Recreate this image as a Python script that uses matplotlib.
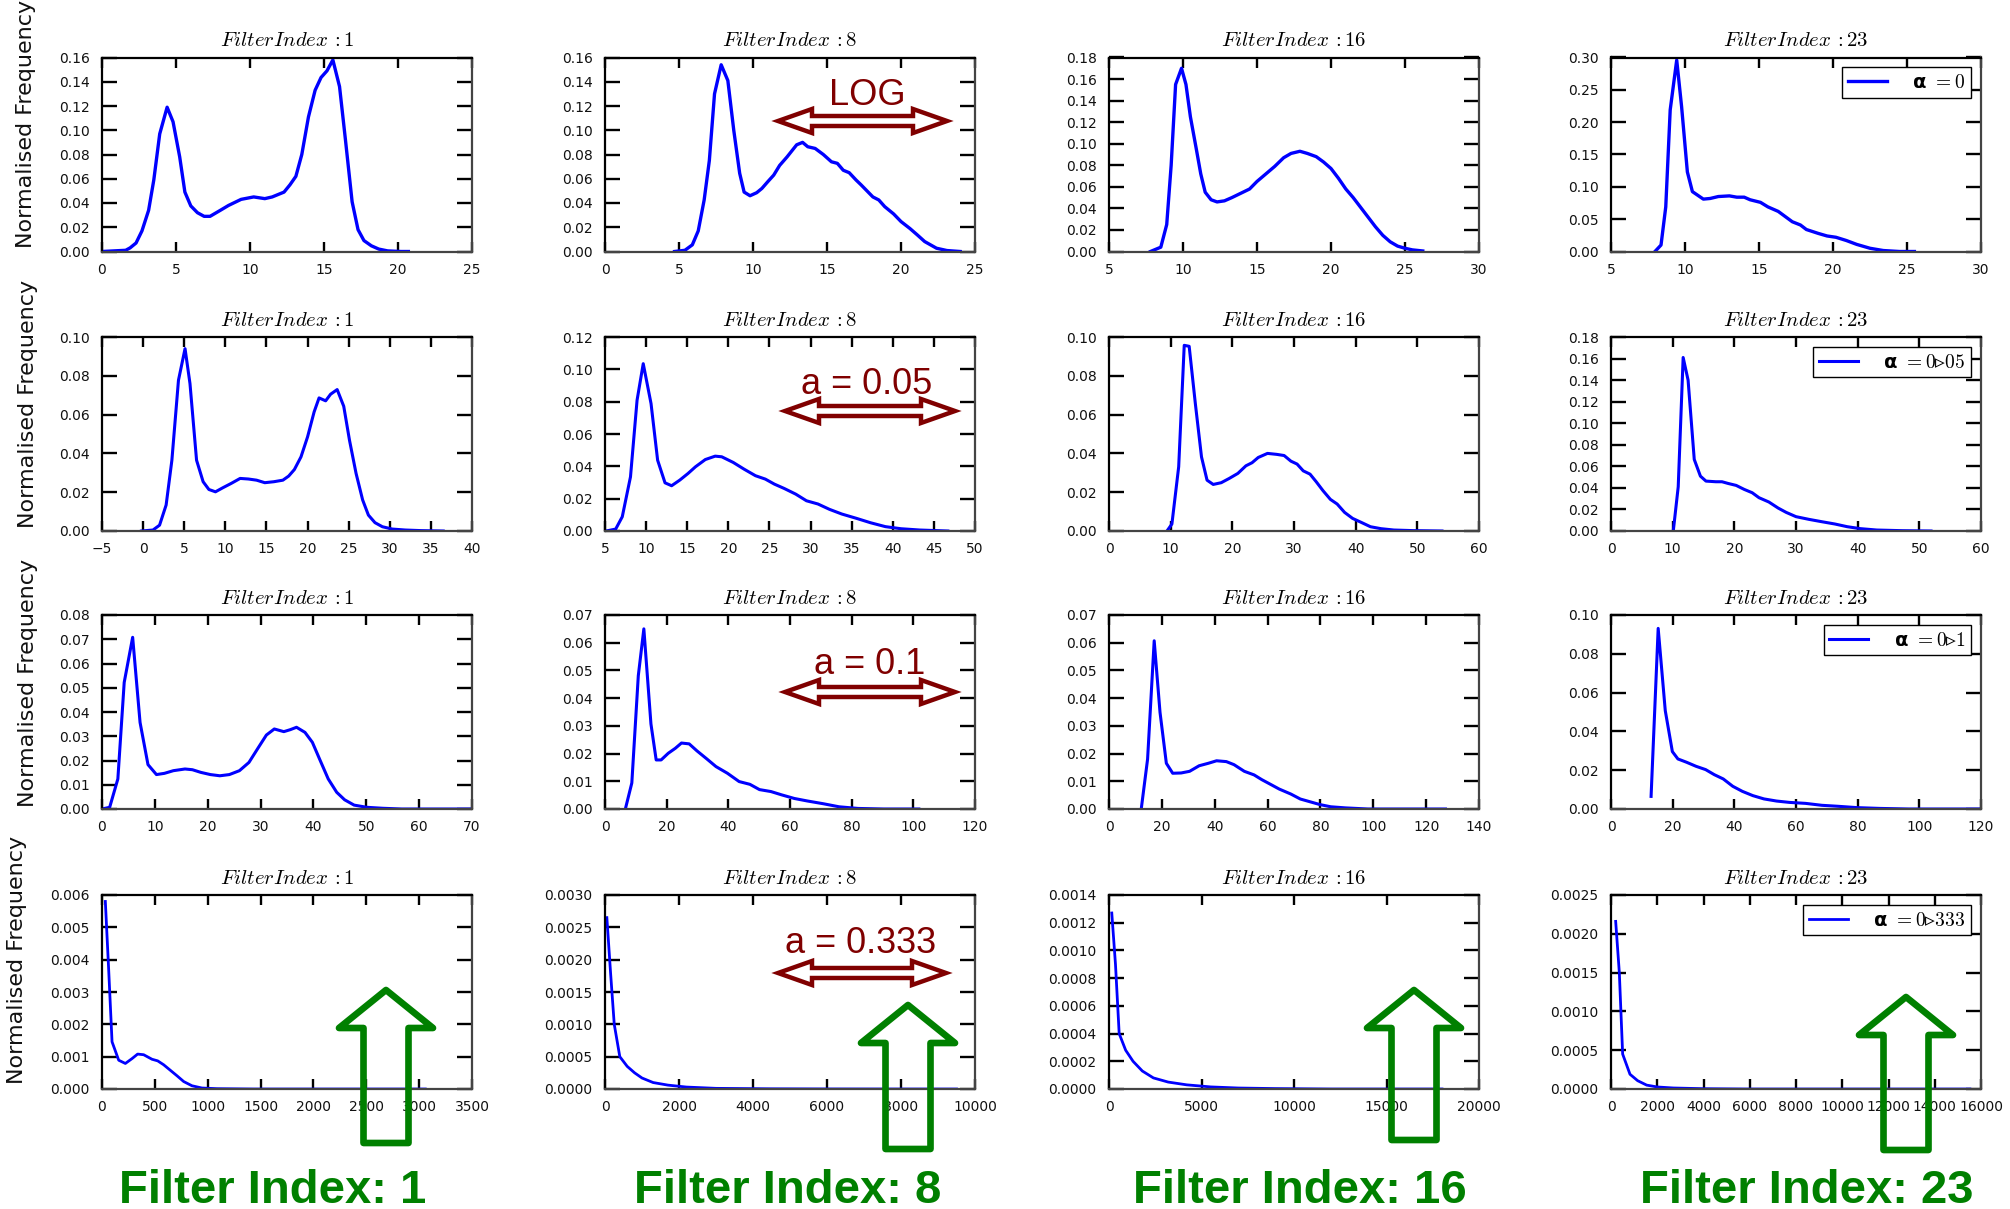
import numpy as np
import matplotlib
matplotlib.use('Agg')
import matplotlib.pyplot as plt
from matplotlib.patches import Polygon
from matplotlib.ticker import FormatStrFormatter, MultipleLocator

plt.rcParams['mathtext.fontset'] = 'cm'
plt.rcParams['font.family'] = ['DejaVu Sans']

W, H = 2010, 1209

# ---- curves: (bin value, normalised frequency) ----
# row 1: LOG
log_f1 = [(0, 0), (1.6, 0.001), (1.9, 0.003), (2.3, 0.007), (2.7, 0.017), (3.15, 0.034), (3.5, 0.059),
          (3.9, 0.097), (4.4, 0.119), (4.8, 0.107), (5.25, 0.078), (5.6, 0.049), (6.0, 0.0376), (6.45, 0.032),
          (6.9, 0.029), (7.3, 0.029), (8.0, 0.034), (8.55, 0.038), (9.4, 0.043), (10.25, 0.045), (11.0, 0.0436),
          (11.5, 0.045), (12.3, 0.049), (12.7, 0.055), (13.1, 0.062), (13.5, 0.080), (13.95, 0.111), (14.4, 0.133),
          (14.8, 0.1435), (15.2, 0.149), (15.6, 0.158), (16.05, 0.136), (16.45, 0.092), (16.9, 0.041), (17.3, 0.018),
          (17.7, 0.009), (18.2, 0.0047), (18.7, 0.002), (19.3, 0.0005), (20.2, 0), (20.7, 0)]
log_f8 = [(4.7, 0), (5.4, 0.001), (5.9, 0.0055), (6.3, 0.017), (6.7, 0.0425), (7.05, 0.075), (7.4, 0.130),
          (7.85, 0.154), (8.3, 0.141), (8.7, 0.100), (9.1, 0.0645), (9.4, 0.049), (9.8, 0.046), (10.25, 0.0485),
          (10.6, 0.052), (11.0, 0.0576), (11.4, 0.063), (11.8, 0.071), (12.3, 0.078), (12.95, 0.088), (13.35, 0.090),
          (13.7, 0.0864), (14.2, 0.085), (14.75, 0.080), (15.3, 0.074), (15.7, 0.0727), (16.1, 0.067), (16.5, 0.065),
          (16.96, 0.059), (17.3, 0.055), (18.1, 0.045), (18.5, 0.0425), (18.9, 0.037), (19.5, 0.031), (20.0, 0.0247),
          (20.6, 0.019), (21.1, 0.0137), (21.6, 0.0082), (22.4, 0.0027), (23.1, 0.0008), (24.0, 0)]
log_f16 = [(7.8, 0), (8.5, 0.004), (8.9, 0.025), (9.2, 0.08), (9.5, 0.155), (9.9, 0.170), (10.2, 0.155),
           (10.5, 0.125), (10.9, 0.095), (11.2, 0.072), (11.5, 0.055), (11.9, 0.048), (12.3, 0.046), (12.8, 0.047),
           (13.3, 0.050), (13.9, 0.054), (14.5, 0.058), (15.0, 0.065), (15.6, 0.072), (16.2, 0.079), (16.8, 0.087),
           (17.3, 0.091), (17.9, 0.093), (18.4, 0.091), (19.0, 0.088), (19.5, 0.083), (20.0, 0.077), (20.5, 0.068),
           (21.0, 0.058), (21.5, 0.050), (22.0, 0.041), (22.5, 0.032), (23.0, 0.023), (23.5, 0.015), (24.0, 0.009),
           (24.5, 0.005), (25.0, 0.003), (25.5, 0.0015), (26.2, 0.0005)]
log_f23 = [(7.97, 0), (8.38, 0.010), (8.7, 0.069), (9.0, 0.219), (9.44, 0.296), (9.77, 0.224), (10.16, 0.123),
           (10.5, 0.0926), (11.24, 0.081), (11.7, 0.082), (12.25, 0.085), (13.0, 0.086), (13.5, 0.084), (14.0, 0.084),
           (14.4, 0.080), (15.1, 0.076), (15.6, 0.069), (16.3, 0.062), (17.25, 0.046), (17.8, 0.041), (18.2, 0.034),
           (19.0, 0.028), (19.6, 0.024), (20.2, 0.022), (20.9, 0.017), (21.6, 0.011), (22.5, 0.005), (23.4, 0.0015),
           (24.5, 0), (25.5, 0)]

# row 2: a = 0.05
a005_f1 = [(-0.2, 0), (1.2, 0.0005), (2.0, 0.003), (2.8, 0.0134), (3.5, 0.0365), (4.3, 0.0777), (5.1, 0.094),
           (5.7, 0.076), (6.5, 0.0365), (7.3, 0.0254), (8.0, 0.0214), (8.8, 0.0202), (9.7, 0.0223), (10.7, 0.0245),
           (11.8, 0.0271), (12.8, 0.0268), (13.8, 0.0262), (14.8, 0.0249), (15.9, 0.0254), (17.0, 0.0262),
           (17.7, 0.0283), (18.4, 0.0317), (19.2, 0.0382), (20.0, 0.0485), (20.8, 0.0614), (21.4, 0.0686),
           (22.2, 0.0671), (22.8, 0.0705), (23.6, 0.0729), (24.4, 0.0643), (25.1, 0.0468), (25.9, 0.0297),
           (26.7, 0.016), (27.4, 0.0082), (28.2, 0.0043), (29.1, 0.0022), (30.3, 0.001), (31.9, 0.0005),
           (33.8, 0.0002), (36.5, 0)]
a005_f8 = [(5.15, 0), (6.3, 0.0012), (7.1, 0.0088), (8.1, 0.0335), (8.9, 0.0809), (9.65, 0.1035), (10.6, 0.0788),
           (11.4, 0.0438), (12.3, 0.0298), (13.1, 0.028), (14.1, 0.0315), (15.1, 0.0356), (16.0, 0.0397),
           (17.2, 0.0442), (18.4, 0.0463), (19.2, 0.0459), (20.6, 0.0424), (21.9, 0.0383), (23.3, 0.0342),
           (24.5, 0.0321), (25.6, 0.029), (26.8, 0.0263), (28.2, 0.0228), (29.5, 0.0187), (30.9, 0.0167),
           (32.3, 0.0134), (33.8, 0.0105), (35.6, 0.0078), (37.3, 0.0051), (39.1, 0.0027), (41.0, 0.0014),
           (43.3, 0.0006), (46.7, 0)]
a005_f16 = [(9.4, 0), (10.2, 0.0036), (11.3, 0.0331), (12.2, 0.0957), (13.0, 0.0952), (14.0, 0.0657),
            (15.0, 0.0382), (15.9, 0.0262), (16.9, 0.024), (18.2, 0.0249), (19.5, 0.0271), (20.9, 0.0297),
            (22.2, 0.0336), (23.2, 0.0352), (24.2, 0.0379), (25.7, 0.04), (27.2, 0.0395), (28.4, 0.0389),
            (29.5, 0.036), (30.5, 0.0345), (31.5, 0.031), (32.6, 0.0293), (33.6, 0.0254), (34.7, 0.0208),
            (35.9, 0.0163), (37.0, 0.0139), (38.2, 0.0096), (39.5, 0.0065), (41.0, 0.0043), (42.4, 0.0022),
            (44.1, 0.0012), (46.2, 0.0005), (49.3, 0.0002), (54.0, 0)]
a005_f23 = [(10.1, 0), (10.9, 0.041), (11.7, 0.161), (12.5, 0.140), (13.5, 0.0664), (14.5, 0.0509),
            (15.4, 0.0463), (17.0, 0.0457), (18.0, 0.0457), (19.0, 0.0441), (20.3, 0.0423), (21.6, 0.0386),
            (22.9, 0.0355), (24.0, 0.0309), (25.6, 0.0269), (27.1, 0.0213), (28.4, 0.0173), (30.0, 0.0133),
            (32.1, 0.0108), (34.2, 0.0086), (36.3, 0.0065), (38.3, 0.004), (40.4, 0.0022), (43.1, 0.0009),
            (47.2, 0.0003), (51.9, 0)]

# row 3: a = 0.1
a01_f1 = [(0, 0), (1.45, 0.0007), (3.0, 0.0124), (4.2, 0.0522), (5.8, 0.0708), (7.2, 0.0357), (8.7, 0.0183),
          (10.3, 0.0142), (11.8, 0.0147), (13.5, 0.0158), (15.7, 0.0165), (17.1, 0.0162), (18.7, 0.0151),
          (20.5, 0.0142), (22.3, 0.0137), (24.1, 0.0142), (26.0, 0.0158), (27.8, 0.0192), (29.6, 0.0254),
          (31.1, 0.0305), (32.6, 0.033), (34.4, 0.0319), (35.6, 0.0327), (36.8, 0.0337), (38.4, 0.0316),
          (39.8, 0.0275), (41.3, 0.0199), (42.8, 0.0124), (44.4, 0.0069), (45.9, 0.0038), (47.7, 0.0016),
          (50.1, 0.0007), (53.1, 0.0003), (56.7, 0), (70, 0)]
a01_f8 = [(6.6, 0), (8.7, 0.0094), (10.8, 0.0481), (12.6, 0.065), (14.9, 0.0307), (16.6, 0.0177), (18.2, 0.0177),
          (20.5, 0.0201), (22.8, 0.0219), (24.8, 0.0238), (27.3, 0.0235), (29.8, 0.021), (33.1, 0.018),
          (36.0, 0.0153), (39.7, 0.0129), (43.5, 0.0099), (47.0, 0.0089), (50.1, 0.007), (53.8, 0.0063),
          (57.3, 0.0051), (61.4, 0.0038), (65.6, 0.0029), (70.8, 0.0019), (75.9, 0.0008), (82.1, 0.0002),
          (90.4, 0), (101.8, 0)]
a01_f16 = [(12.2, 0), (14.6, 0.018), (17.1, 0.0607), (19.3, 0.0349), (21.7, 0.0165), (24.1, 0.0129),
           (27.3, 0.013), (30.5, 0.0136), (34.1, 0.0156), (37.6, 0.0165), (40.7, 0.0174), (44.4, 0.0171),
           (47.3, 0.016), (51.2, 0.0136), (54.9, 0.0123), (57.8, 0.0106), (61.5, 0.0087), (64.4, 0.0072),
           (68.8, 0.0054), (72.4, 0.0036), (76.1, 0.0026), (79.8, 0.0016), (83.9, 0.0008), (89.5, 0.0004),
           (98, 0), (127.3, 0)]
a01_f23 = [(13.0, 0.0065), (15.3, 0.0931), (17.6, 0.0507), (19.9, 0.0296), (21.7, 0.0258), (24.5, 0.0241),
           (27.6, 0.022), (30.7, 0.0203), (33.5, 0.0177), (36.4, 0.0155), (39.5, 0.0117), (42.6, 0.0091),
           (46.0, 0.0069), (49.6, 0.0052), (53.7, 0.0041), (57.9, 0.0034), (63.1, 0.0029), (68.4, 0.0019),
           (73.6, 0.0014), (79.9, 0.0007), (87.2, 0.0003), (96.6, 0), (119.6, 0)]

# row 4: a = 0.333
a0333_f1 = [(31.5, 0.0058), (63, 0.0037), (95, 0.00146), (158, 0.00089), (221, 0.00079), (284, 0.00094),
            (337, 0.00108), (394, 0.00106), (473, 0.00092), (527, 0.00087), (583, 0.00075), (646, 0.00058),
            (709, 0.00041), (773, 0.00023), (851, 0.0001), (946, 0.00003), (1088, 0.00001), (1435, 0),
            (3058, 0)]
a0333_f8 = [(50, 0.00265), (150, 0.0018), (250, 0.0010), (400, 0.0005), (600, 0.00035), (800, 0.00025),
            (1000, 0.00017), (1300, 0.0001), (1700, 0.00006), (2200, 0.00003), (3000, 0.00001), (4500, 0.000003),
            (6000, 0.000001), (8000, 0), (9500, 0)]
a0333_f16 = [(150, 0.00127), (350, 0.0009), (550, 0.0004), (900, 0.00028), (1300, 0.0002), (1800, 0.00013),
             (2400, 0.00008), (3200, 0.00005), (4200, 0.00003), (5500, 0.000015), (7000, 0.000007),
             (9000, 0.000003), (12000, 0), (15000, 0), (18000, 0)]
a0333_f23 = [(202, 0.00216), (360, 0.0015), (504, 0.00045), (821, 0.00019), (1153, 0.000107), (1542, 0.00005),
             (2003, 0.000026), (2695, 0.000013), (3992, 0.000004), (5865, 0), (15520, 0)]

curves = [[log_f1, log_f8, log_f16, log_f23],
          [a005_f1, a005_f8, a005_f16, a005_f23],
          [a01_f1, a01_f8, a01_f16, a01_f23],
          [a0333_f1, a0333_f8, a0333_f16, a0333_f23]]

filter_ids = [1, 8, 16, 23]
row_notes = ['LOG', 'a = 0.05', 'a = 0.1', 'a = 0.333']
legend_labels = ['α $=0$', 'α $=0$▹$05$', 'α $=0$▹$1$', 'α $=0$▹$333$']

# axis ranges: (xmin, xmax, xstep, ymax, ystep, y decimals)
axis_cfg = [
    [(0, 25, 5, 0.16, 0.02, 2), (0, 25, 5, 0.16, 0.02, 2), (5, 30, 5, 0.18, 0.02, 2), (5, 30, 5, 0.30, 0.05, 2)],
    [(-5, 40, 5, 0.10, 0.02, 2), (5, 50, 5, 0.12, 0.02, 2), (0, 60, 10, 0.10, 0.02, 2), (0, 60, 10, 0.18, 0.02, 2)],
    [(0, 70, 10, 0.08, 0.01, 2), (0, 120, 20, 0.07, 0.01, 2), (0, 140, 20, 0.07, 0.01, 2), (0, 120, 20, 0.10, 0.02, 2)],
    [(0, 3500, 500, 0.006, 0.001, 3), (0, 10000, 2000, 0.003, 0.0005, 4), (0, 20000, 5000, 0.0014, 0.0002, 4),
     (0, 16000, 2000, 0.0025, 0.0005, 4)],
]

# layout in pixels
col_left = [102, 605, 1109, 1611]
row_top = [57.5, 337, 615, 895]
ax_w, ax_h = 370, 194
line_w = [2.4, 2.2, 2.2, 2.0]
ylab_x = [26, 28, 28, 17]
ylab_y = [124, 404, 683, 960]
maroon = '#800000'
green = '#008000'


def fx(px):
    return px / W


def fy(py):
    return 1 - py / H


fig = plt.figure(figsize=(W / 100, H / 100), dpi=100)

for r in range(4):
    for c in range(4):
        ax = fig.add_axes([fx(col_left[c]), fy(row_top[r] + ax_h), ax_w / W, ax_h / H])
        xy = np.array(curves[r][c])
        ax.plot(xy[:, 0], xy[:, 1], color='#0000ff', lw=line_w[r], label=legend_labels[r])
        x0, x1, xs, y1, ys, dec = axis_cfg[r][c]
        ax.set_xlim(x0, x1)
        ax.set_ylim(0, y1)
        ax.xaxis.set_major_locator(MultipleLocator(xs))
        ax.yaxis.set_major_locator(MultipleLocator(ys))
        ax.yaxis.set_major_formatter(FormatStrFormatter('%.' + str(dec) + 'f'))
        ax.tick_params(axis='both', direction='in', top=True, right=True, labelsize=10,
                       width=1.7, color='black', labelcolor='#111111')
        ax.tick_params(axis='y', length=11, pad=9)
        ax.tick_params(axis='x', length=7, pad=8)
        for side in ['left', 'top']:
            ax.spines[side].set_color('black')
            ax.spines[side].set_linewidth(1.6)
        for side in ['right', 'bottom']:
            ax.spines[side].set_color('#444444')
            ax.spines[side].set_linewidth(1.6)
        ax.set_title(r'$Filter Index\,:%d$' % filter_ids[c], fontsize=15, pad=8)
        if c == 3:
            ax.legend(loc='upper right', fancybox=False, edgecolor='black', framealpha=1,
                      prop={'size': 14, 'weight': 'bold'},
                      handlelength=2.0, handletextpad=1.3, borderpad=0.3, borderaxespad=0.5)

    fig.text(fx(ylab_x[r]), fy(ylab_y[r]), 'Normalised Frequency', rotation=90, fontsize=16,
             ha='center', va='center', color='#111111')

# ---- maroon double arrows with labels (second column) ----
note_xy = [(867, 105), (867, 394), (870, 674), (861, 953)]
darrow = [(778, 947, 121), (785, 955, 411), (785, 955, 692), (778, 946, 973)]
for r in range(4):
    tx, ty = note_xy[r]
    fig.text(fx(tx), fy(ty), row_notes[r], fontsize=26, color=maroon, ha='center', va='baseline',
             family='Liberation Sans')
    xa, xb, yc = darrow[r]
    hl, hh, sh = 34, 12, 5
    pts = [(xa, yc), (xa + hl, yc - hh), (xa + hl, yc - sh), (xb - hl, yc - sh), (xb - hl, yc - hh),
           (xb, yc), (xb - hl, yc + hh), (xb - hl, yc + sh), (xa + hl, yc + sh), (xa + hl, yc + hh)]
    fig.add_artist(Polygon([(fx(p), fy(q)) for p, q in pts], closed=True, fill=False,
                           edgecolor=maroon, lw=3.2, joinstyle='miter', transform=fig.transFigure))

# ---- green up arrows and filter captions (bottom) ----
up_arrows = [(386, 990, 1143), (908, 1005, 1149), (1414, 990, 1140), (1906, 997, 1150)]
caption_x = [273, 788, 1300, 1807]
for c in range(4):
    xc, yt, yb = up_arrows[c]
    hw, hl, sw = 47, 38, 22.5
    pts = [(xc, yt), (xc + hw, yt + hl), (xc + sw, yt + hl), (xc + sw, yb), (xc - sw, yb),
           (xc - sw, yt + hl), (xc - hw, yt + hl)]
    fig.add_artist(Polygon([(fx(p), fy(q)) for p, q in pts], closed=True, fill=False,
                           edgecolor=green, lw=4.8, joinstyle='round', transform=fig.transFigure))
    fig.text(fx(caption_x[c]), fy(1203), 'Filter Index: %d' % filter_ids[c], fontsize=34,
             fontweight='bold', color=green, ha='center', va='baseline', family='Liberation Sans')

fig.savefig('out.png', dpi=100)
